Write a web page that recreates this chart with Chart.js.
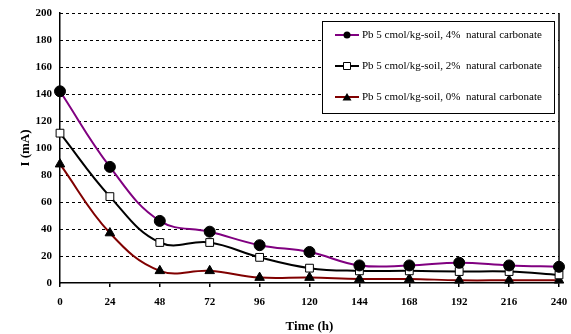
<!DOCTYPE html>
<html><head><meta charset="utf-8">
<script src="https://cdn.jsdelivr.net/npm/chart.js@4/dist/chart.umd.min.js"></script>
<style>html,body{margin:0;padding:0;background:#fff}#wrap{width:571px;height:334px;position:relative}</style>
</head><body><div id="wrap"><canvas id="c" width="571" height="334"></canvas></div>
<script>
const times = [0, 24, 48, 72, 96, 120, 144, 168, 192, 216, 240];
const seriesLabels = [
  "Pb 5 cmol/kg-soil, 4%  natural carbonate",
  "Pb 5 cmol/kg-soil, 2%  natural carbonate",
  "Pb 5 cmol/kg-soil, 0%  natural carbonate"
];
const carb4 = [142, 86, 46, 38, 28, 23, 13, 13, 15, 13, 12];
const carb2 = [111, 64, 30, 30, 19, 11, 9, 9, 8.5, 8.5, 6];
const carb0 = [88, 37, 9, 9, 4, 4, 3, 3, 2, 2, 2];
const yTicks = [0, 20, 40, 60, 80, 100, 120, 140, 160, 180, 200];

const toXY = arr => arr.map((v, i) => ({x: times[i], y: v}));
const FONT = "'Liberation Serif', 'Times New Roman', serif";

const styles = [
  {line: '#800080', pt: 'circle', fill: '#000', border: '#000'},
  {line: '#000000', pt: 'rect', fill: '#fff', border: '#000'},
  {line: '#800000', pt: 'triangle', fill: '#000', border: '#000'}
];
const dataArr = [carb4, carb2, carb0];

const datasets = dataArr.map((d, i) => ({
  label: seriesLabels[i],
  data: toXY(d),
  borderColor: styles[i].line,
  borderWidth: 2,
  tension: 0.4,
  pointStyle: styles[i].pt,
  pointRadius: 5.5,
  pointBackgroundColor: styles[i].fill,
  pointBorderColor: styles[i].border,
  pointBorderWidth: 1,
  fill: false,
  clip: false
}));

const frame = {
  id: 'frame',
  beforeDatasetsDraw(chart) {
    const {ctx, chartArea: a} = chart;
    const ys = chart.scales.y;
    ctx.save();
    ctx.strokeStyle = '#000'; ctx.lineWidth = 1;
    ctx.setLineDash([3, 3]);
    yTicks.forEach(v => {
      if (v === 0) return;
      const py = Math.round(ys.getPixelForValue(v)) + 0.5;
      ctx.beginPath(); ctx.moveTo(a.left, py); ctx.lineTo(a.right, py); ctx.stroke();
    });
    ctx.setLineDash([]);
    ctx.lineWidth = 1.5;
    ctx.beginPath();
    ctx.moveTo(a.right, a.top); ctx.lineTo(a.right, a.bottom);
    ctx.stroke();
    ctx.restore();
  },
  afterDraw(chart) {
    const ctx = chart.ctx;
    const bx = 322, by = 21, bw = 232, bh = 92;
    ctx.save();
    ctx.fillStyle = '#fff';
    ctx.fillRect(bx, by, bw, bh);
    ctx.strokeStyle = '#000'; ctx.lineWidth = 1;
    ctx.strokeRect(bx + 0.5, by + 0.5, bw, bh);
    const rows = [35, 66, 97];
    ctx.font = '11px ' + FONT;
    ctx.textBaseline = 'middle';
    rows.forEach((ry, i) => {
      ctx.strokeStyle = styles[i].line; ctx.lineWidth = 2;
      ctx.beginPath(); ctx.moveTo(335, ry); ctx.lineTo(359, ry); ctx.stroke();
      ctx.fillStyle = styles[i].fill; ctx.strokeStyle = '#000'; ctx.lineWidth = 1;
      const cx = 347;
      ctx.beginPath();
      if (styles[i].pt === 'circle') { ctx.arc(cx, ry, 3.5, 0, Math.PI * 2); ctx.fill(); }
      else if (styles[i].pt === 'rect') { ctx.rect(cx - 3.5, ry - 3.5, 7, 7); ctx.fill(); ctx.stroke(); }
      else { ctx.moveTo(cx, ry - 4); ctx.lineTo(cx + 4.5, ry + 3.5); ctx.lineTo(cx - 4.5, ry + 3.5); ctx.closePath(); ctx.fill(); }
      ctx.fillStyle = '#000';
      ctx.fillText(seriesLabels[i], 362, ry);
    });
    ctx.restore();
  }
};

new Chart(document.getElementById('c'), {
  type: 'line',
  data: {datasets},
  options: {
    responsive: false,
    animation: false,
    layout: {padding: {top: 13, right: 12, left: 0, bottom: 0}},
    plugins: {legend: {display: false}, tooltip: {enabled: false}},
    scales: {
      x: {
        type: 'linear', min: 0, max: 240,
        afterBuildTicks(s) { s.ticks = times.map(v => ({value: v})); },
        afterFit(s) { s.height = 51; s.paddingLeft = 0; s.paddingRight = 0; },
        grid: {drawOnChartArea: false, drawTicks: true, tickLength: 4, color: '#000', lineWidth: 1.5},
        border: {color: '#000', width: 1.5},
        ticks: {color: '#000', font: {family: FONT, size: 11, weight: 'bold'}, padding: 9, maxRotation: 0},
        title: {display: true, text: 'Time (h)', color: '#000', font: {family: FONT, size: 13, weight: 'bold'}, padding: {top: 2, bottom: 0}}
      },
      y: {
        min: 0, max: 200,
        afterBuildTicks(s) { s.ticks = yTicks.map(v => ({value: v})); },
        afterFit(s) { s.width = 60; s.paddingTop = 0; s.paddingBottom = 0; },
        grid: {display: false, drawTicks: false},
        border: {color: '#000', width: 1.5},
        ticks: {color: '#000', font: {family: FONT, size: 11, weight: 'bold'}, padding: 8},
        title: {display: true, text: 'I (mA)', color: '#000', font: {family: FONT, size: 13, weight: 'bold'}, padding: {top: 18, bottom: 0}}
      }
    }
  },
  plugins: [frame]
});
</script></body></html>
